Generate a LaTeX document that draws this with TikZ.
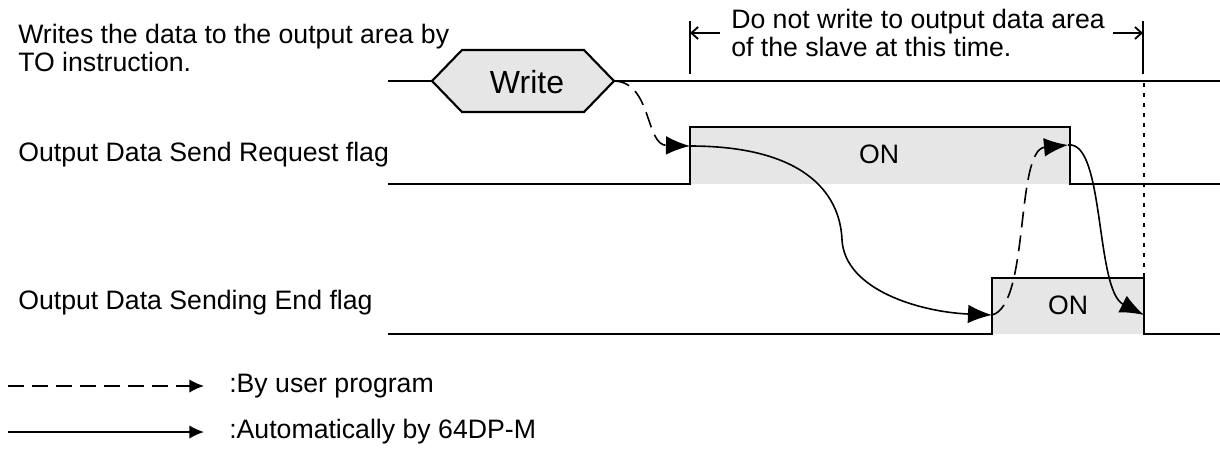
\documentclass[tikz,border=0pt]{standalone}
\usepackage{fontspec}
\setmainfont{Liberation Sans}
\usetikzlibrary{arrows.meta,positioning}

\definecolor{onfill}{HTML}{E6E6E6}

\begin{document}
\begin{tikzpicture}[x=0.75pt,y=-0.75pt,>={Latex[length=18pt,width=14pt]},
    font=\fontsize{20}{21}\selectfont,
    sig/.style={line width=1.6pt},
    auto/.style={line width=1.2pt,->},
    user/.style={line width=1.2pt,->,dash pattern=on 12pt off 6pt},
    dim/.style={line width=1.4pt,-{Straight Barb[length=5pt,width=9pt]}},
    txt/.style={inner sep=0pt,anchor=west,align=left}]
  \useasboundingbox (0,0) rectangle (1220,457);

  % left labels
  \node[txt] (lbwrite) at (18,48) {Writes the data to the output area by\\TO instruction.};
  \node[txt] (lbreq)   at (18,155) {Output Data Send Request flag};
  \node[txt] (lbend)   at (18,303) {Output Data Sending End flag};

  % write signal
  \coordinate (wl) at (432,81);
  \coordinate (wr) at (614,81);
  \draw[sig] (388,81) -- (wl);
  \draw[sig,fill=onfill] (wl) -- (462,50) -- (584,50) -- (wr) -- (584,112) -- (462,112) -- cycle;
  \draw[sig] (wr) -- (1220,81);
  \node[inner sep=0pt,font=\fontsize{24}{24}\selectfont] (write) at (527,82) {Write};

  % request flag
  \fill[onfill] (690,127) rectangle (1070,184);
  \draw[sig] (388,184) -- (690,184) -- (690,127) -- (1070,127) -- (1070,184) -- (1220,184);
  \node[inner sep=0pt] (on1) at (879,154) {ON};
  \coordinate (rqA) at (690,146);
  \coordinate (rqB) at (1068,145);

  % end flag
  \fill[onfill] (992,278) rectangle (1144,334);
  \draw[sig] (388,334) -- (992,334) -- (992,278) -- (1144,278) -- (1144,334) -- (1220,334);
  \node[inner sep=0pt] (on2) at (1068,305) {ON};
  \coordinate (enA) at (992,315);
  \coordinate (enB) at (1144,315);

  % time span
  \coordinate (dL) at (690,33);
  \coordinate (dR) at (1143,33);
  \draw[sig] (690,21) -- (690,74);
  \draw[sig] (1143,21) -- (1143,74);
  \draw[line width=1.6pt,dash pattern=on 3pt off 4.5pt] (1144,83) -- (1144,277);
  \node[txt] (note) at (731,33) {Do not write to output data area\\of the slave at this time.};
  \draw[dim] (720,33) -- (dL);
  \draw[dim] (1113,33) -- (dR);

  % handshake
  \draw[user] (wr) .. controls (652,82) and (645,145) .. (rqA);
  \draw[auto] (rqA) .. controls (800,146) and (840,190) .. (842,240)
    .. controls (845,290) and (920,312) .. (enA);
  \draw[user] (enA) .. controls (1030,305) and (1015,150) .. (rqB);
  \draw[auto] (rqB) .. controls (1105,140) and (1095,290) .. (enB);

  % legend
  \coordinate (lg1) at (8,386);
  \coordinate (lg2) at (8,432);
  \node[txt] (lgtx1) at (229,386) {:By user program};
  \node[txt] (lgtx2) at (229,432) {:Automatically by 64DP-M};
  \draw[user,>={Latex[length=11pt,width=10pt]}] (lg1) -- ++(196,0);
  \draw[auto,>={Latex[length=11pt,width=10pt]}] (lg2) -- ++(196,0);
\end{tikzpicture}
\end{document}
